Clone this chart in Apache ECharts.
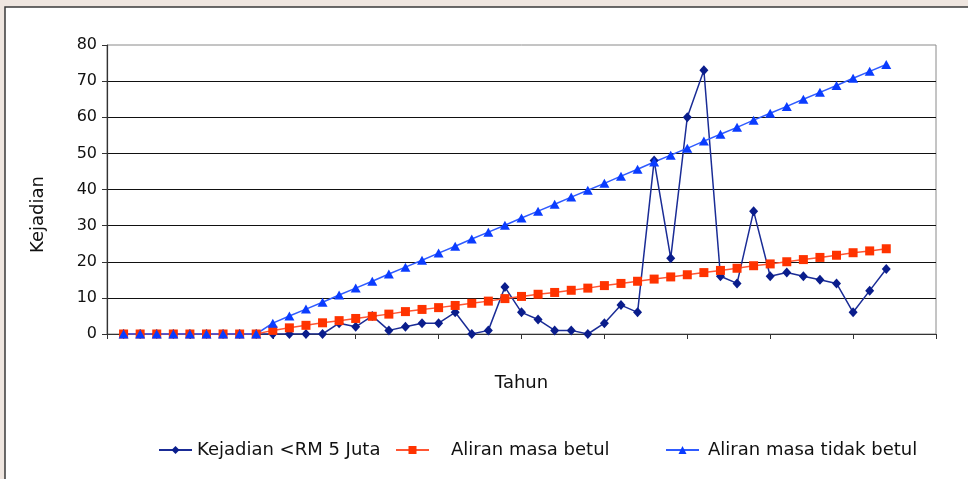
<!DOCTYPE html>
<html>
<head>
<meta charset="utf-8">
<script src="https://cdn.jsdelivr.net/npm/echarts@6/dist/echarts.min.js"></script>
<style>
html,body{margin:0;padding:0;background:#efe6e0;}
#chart{width:968px;height:479px;}
</style>
</head>
<body>
<div id="chart"></div>
<script>
// Category positions along the x axis (unlabeled "Tahun" axis)
var categories = [0,1,2,3,4,5,6,7,8,9,10,11,12,13,14,15,16,17,18,19,20,21,22,23,24,25,26,27,28,29,30,31,32,33,34,35,36,37,38,39,40,41,42,43,44,45,46,47,48,49,50];

var seriesNames = ['Kejadian <RM 5 Juta', 'Aliran masa betul', 'Aliran masa tidak betul'];

var kejadian = [null,
  0,0,0,0,0,0,0,0,0,0,0,0,0,
  3,2,5,1,2,3,3,6,0,1,13,6,4,1,1,0,3,8,6,48,21,60,73,16,14,34,16,17,16,15,14,6,12,18,
  null,null,null];

var betul = [null,
  0,0,0,0,0,0,0,0,0,
  1.0,1.7,2.4,3.1,3.7,4.3,4.9,5.5,6.2,6.8,7.3,7.9,8.5,9.1,9.8,10.4,11.0,11.5,12.1,12.7,
  13.4,14.0,14.6,15.2,15.8,16.4,17.0,17.6,18.2,18.9,19.4,20.0,20.6,21.2,21.8,22.5,23.0,23.6,
  null,null,null];

var tidakBetul = [null,
  0,0,0,0,0,0,0,0,0,
  3.0,5.0,6.9,8.8,10.8,12.7,14.6,16.6,18.5,20.4,22.4,24.3,26.3,28.2,30.1,32.1,34.0,35.9,37.9,39.8,
  41.7,43.7,45.6,47.6,49.5,51.4,53.4,55.3,57.2,59.2,61.1,63.0,65.0,66.9,68.8,70.8,72.7,74.6,
  null,null,null];

var yMin = 0, yMax = 80, yInterval = 10;

var FONT = '"DejaVu Sans", sans-serif';
var chart = echarts.init(document.getElementById('chart'), null, {renderer: 'canvas'});

function legendItem(name, left, textPad) {
  return {
    data: [name],
    left: left,
    top: 441,
    itemWidth: 33,
    itemHeight: 10,
    itemGap: 0,
    padding: 0,
    selectedMode: false,
    textStyle: {fontFamily: FONT, fontSize: 18, color: '#111', padding: [0, 0, 0, textPad]}
  };
}

chart.setOption({
  backgroundColor: '#efe6e0',
  animation: false,
  graphic: [{
    type: 'rect',
    z: -10,
    silent: true,
    shape: {x: 5, y: 7, width: 1000, height: 500},
    style: {fill: '#ffffff', stroke: '#3a3a3a', lineWidth: 1.5}
  }],
  grid: {
    left: 107, right: 32, top: 45, bottom: 145,
    show: true, borderColor: '#8a8a8a', borderWidth: 1, backgroundColor: 'transparent'
  },
  legend: [
    legendItem(seriesNames[0], 158, 0),
    legendItem(seriesNames[1], 395, 17),
    legendItem(seriesNames[2], 665, 4)
  ],
  xAxis: {
    type: 'category',
    data: categories,
    boundaryGap: false,
    name: 'Tahun',
    nameLocation: 'middle',
    nameGap: 40,
    nameTextStyle: {fontFamily: FONT, fontSize: 18, color: '#111'},
    axisLine: {lineStyle: {color: '#333', width: 1.2}},
    axisTick: {show: true, interval: 4, length: 5, lineStyle: {color: '#333'}},
    axisLabel: {show: false},
    splitLine: {show: false}
  },
  yAxis: {
    type: 'value',
    min: yMin, max: yMax, interval: yInterval,
    name: 'Kejadian',
    nameLocation: 'middle',
    nameRotate: 90,
    nameGap: 60,
    nameTextStyle: {fontFamily: FONT, fontSize: 18, color: '#111', padding: [0, 50, 0, 0]},
    axisLine: {show: true, lineStyle: {color: '#333', width: 1.2}},
    axisTick: {show: true, length: 5, lineStyle: {color: '#333'}},
    axisLabel: {fontFamily: FONT, fontSize: 16, color: '#111', margin: 10},
    splitLine: {show: true, showMaxLine: false, showMinLine: false, lineStyle: {color: '#111', width: 1.2}}
  },
  series: [
    {
      name: seriesNames[0], type: 'line', data: kejadian,
      symbol: 'diamond', symbolSize: [9, 10], showAllSymbol: true,
      itemStyle: {color: '#0a1d8c'},
      lineStyle: {color: '#1a2c96', width: 1.5}
    },
    {
      name: seriesNames[1], type: 'line', data: betul,
      symbol: 'rect', symbolSize: 9, showAllSymbol: true,
      itemStyle: {color: '#ff3300'},
      lineStyle: {color: '#ff5533', width: 1.5}
    },
    {
      name: seriesNames[2], type: 'line', data: tidakBetul,
      symbol: 'triangle', symbolSize: [10, 9], showAllSymbol: true,
      itemStyle: {color: '#0a3cff'},
      lineStyle: {color: '#2f5bff', width: 1.5}
    }
  ]
});
</script>
</body>
</html>
